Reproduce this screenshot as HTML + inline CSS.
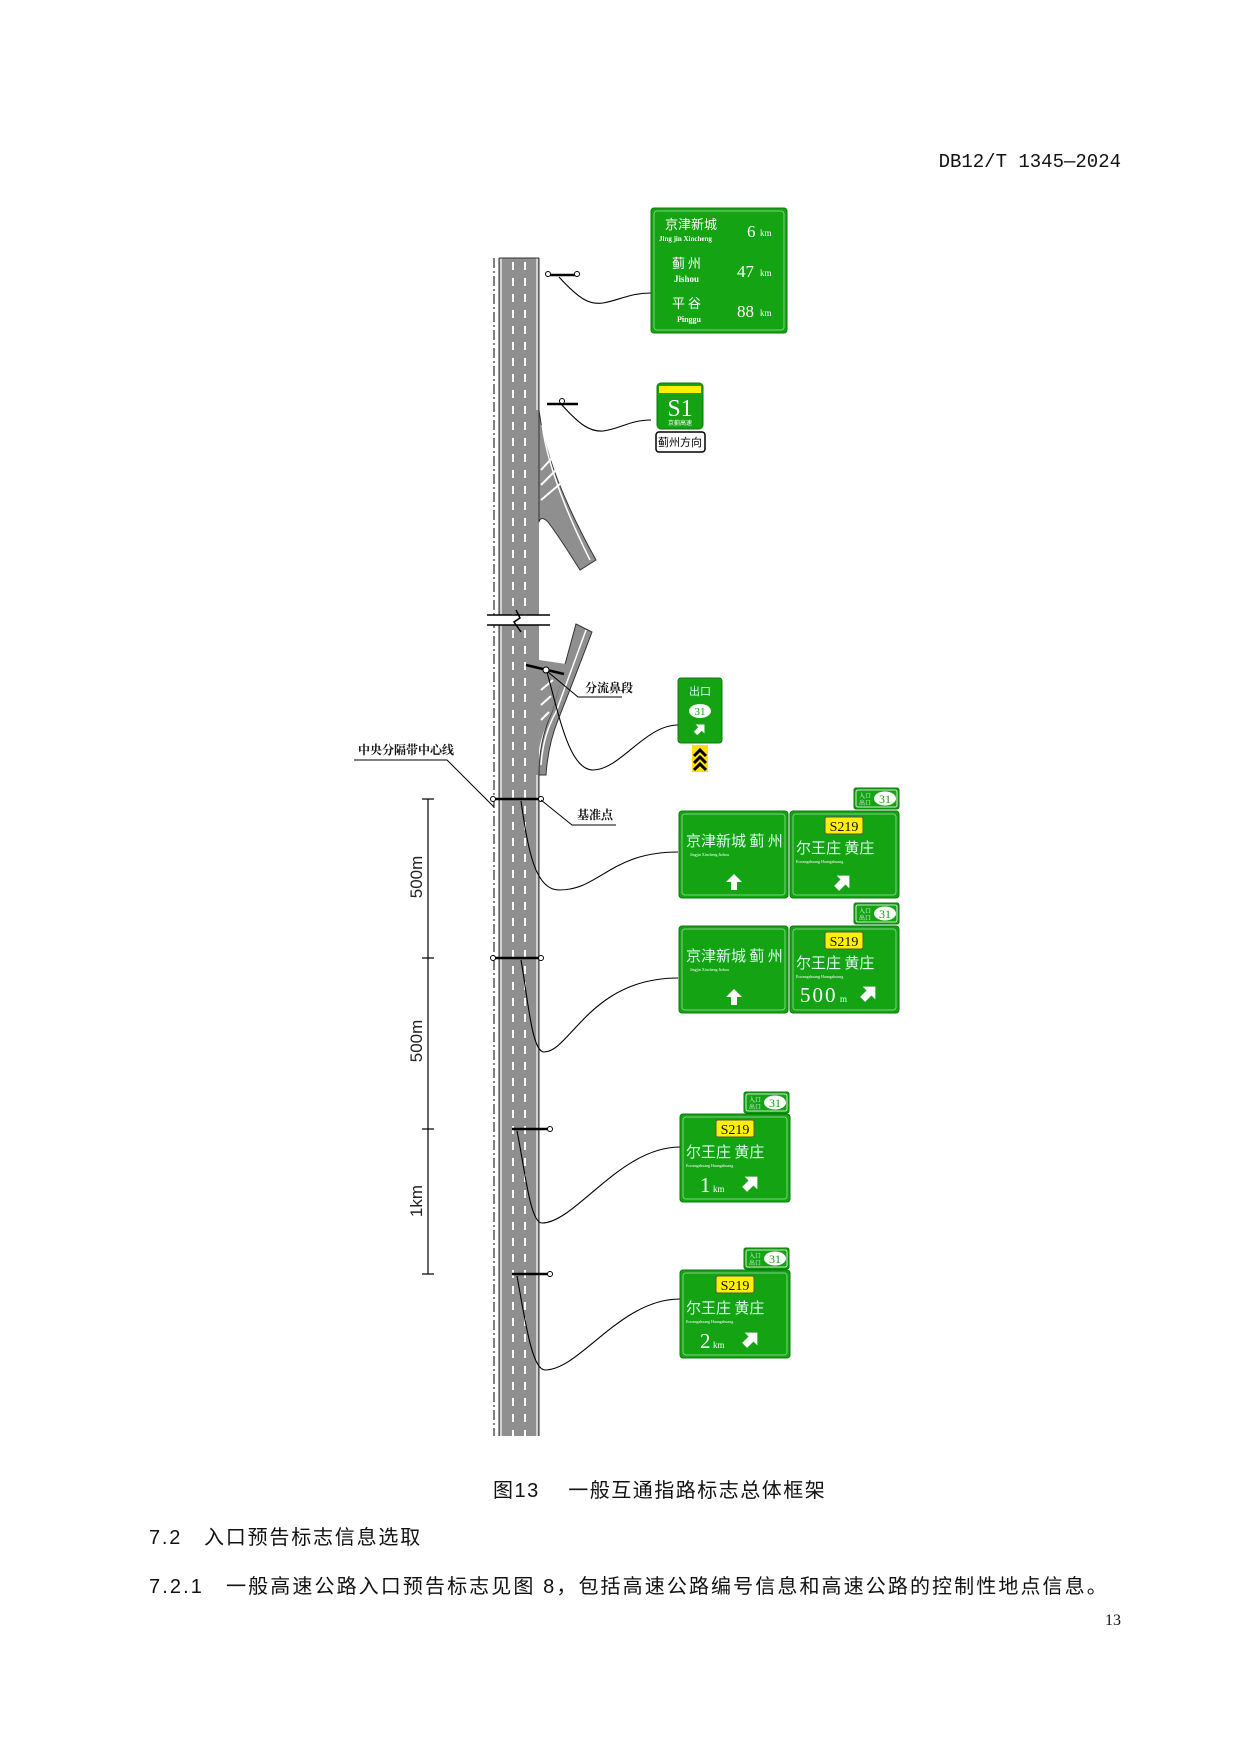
<!DOCTYPE html>
<html><head><meta charset="utf-8"><style>
html,body{margin:0;padding:0;background:#fff;}
body{width:1241px;height:1755px;position:relative;overflow:hidden;font-family:"Liberation Sans","Noto Sans CJK SC",sans-serif;}
.t{position:absolute;white-space:nowrap;color:#111;}
</style></head><body>
<div class="t" style="right:120px;top:151px;font-size:19px;font-family:'Liberation Mono','Noto Sans CJK SC',monospace;">DB12/T 1345—2024</div>

<svg width="1241" height="1755" style="position:absolute;left:0;top:0" font-family="Liberation Serif, Noto Serif CJK SC, serif">
<defs>
<g id="up"><polygon points="0,-8 8,0 3,0 3,8 -3,8 -3,0 -8,0" fill="#fff"/></g>
<g id="diag"><polygon points="0,-9 9,0 3.5,0 3.5,9 -3.5,9 -3.5,0 -9,0" fill="#fff" transform="rotate(45)"/></g>
<g id="tag"><rect x="0" y="0" width="45" height="21" rx="2" fill="#13a313" stroke="#0d7a0d"/><rect x="2" y="2" width="41" height="17" rx="2" fill="none" stroke="#fff" stroke-width="0.8"/><text x="5" y="10" font-size="6" fill="#fff">入口</text><text x="5" y="17" font-size="6" fill="#fff">出口</text><ellipse cx="31" cy="10.5" rx="11" ry="7" fill="#fff"/><text x="31" y="15" font-size="12" text-anchor="middle" fill="#13a313">31</text></g>
</defs>

<!-- road -->
<rect x="499" y="258" width="40" height="1178" fill="#8f8f8f"/>
<line x1="501" y1="258" x2="501" y2="1436" stroke="#fff" stroke-width="1.2"/>
<line x1="537" y1="258" x2="537" y2="410" stroke="#fff" stroke-width="1.2"/>
<line x1="537" y1="775" x2="537" y2="1436" stroke="#fff" stroke-width="1.2"/>
<line x1="499" y1="258" x2="499" y2="1436" stroke="#333" stroke-width="1"/>
<line x1="539" y1="258" x2="539" y2="410" stroke="#333" stroke-width="1"/>
<line x1="539" y1="775" x2="539" y2="1436" stroke="#333" stroke-width="1"/>
<line x1="499" y1="258" x2="539" y2="258" stroke="#333"/>
<line x1="513" y1="262" x2="513" y2="1436" stroke="#fff" stroke-width="2" stroke-dasharray="8,8"/>
<line x1="525" y1="262" x2="525" y2="1436" stroke="#fff" stroke-width="2" stroke-dasharray="8,8"/>
<line x1="494" y1="258" x2="494" y2="1436" stroke="#000" stroke-width="1" stroke-dasharray="10,3,2,3"/>

<!-- upper ramp -->
<path d="M539,410 Q546,470 596,560 L580,570 Q558,535 548,522 Q541,515 539,522 Z" fill="#8f8f8f" stroke="#333"/>
<path d="M542,425 Q550,480 590,560" fill="none" stroke="#fff" stroke-width="1.5"/>
<path d="M541,470 L552,458 M541,485 L556,470 M541,500 L560,484" stroke="#fff" stroke-width="2" fill="none"/>
<!-- lower ramp -->
<path d="M539,775 Q539,740 552,712 L576,624 L592,632 Q570,690 558,720 Q548,745 546,775 Z" fill="#8f8f8f" stroke="#333"/>
<path d="M539,660 L566,664 L552,712 Q541,735 539,750 Z" fill="#8f8f8f"/>
<path d="M541,765 Q543,735 556,712 L586,630" fill="none" stroke="#fff" stroke-width="1.5"/>
<path d="M541,690 L553,680 M541,705 L551,696 M541,720 L549,712" stroke="#fff" stroke-width="2" fill="none"/>

<!-- break -->
<rect x="486" y="615" width="65" height="10" fill="#fff"/>
<line x1="487" y1="615" x2="550" y2="615" stroke="#000" stroke-width="1.5"/>
<line x1="487" y1="625" x2="550" y2="625" stroke="#000" stroke-width="1.5"/>
<path d="M516,610 L520,618 L514,622 L521,632" stroke="#000" stroke-width="1.5" fill="none"/>

<!-- gantries -->
<g stroke="#000" stroke-width="2.5">
<line x1="547" y1="275" x2="578" y2="275"/><line x1="547" y1="404" x2="578" y2="404"/>
<line x1="493" y1="799" x2="541" y2="799"/><line x1="493" y1="958" x2="541" y2="958"/>
<line x1="512" y1="1129" x2="550" y2="1129"/><line x1="512" y1="1274" x2="550" y2="1274"/>
<line x1="526" y1="665" x2="564" y2="674"/>
</g>
<g fill="#fff" stroke="#000" stroke-width="1">
<circle cx="548" cy="274" r="2.5"/><circle cx="577" cy="274" r="2.5"/><circle cx="562" cy="401" r="2.5"/>
<circle cx="493" cy="799" r="2.5"/><circle cx="541" cy="799" r="2.5"/><circle cx="493" cy="958" r="2.5"/><circle cx="541" cy="958" r="2.5"/>
<circle cx="550" cy="1129" r="2.5"/><circle cx="550" cy="1274" r="2.5"/><circle cx="546" cy="670" r="3"/>
</g>

<!-- leader curves -->
<g fill="none" stroke="#000" stroke-width="1.1">
<path d="M559,277 C580,300 590,305 603,303 C620,300 630,293 651,293"/>
<path d="M561,404 C580,425 590,432 603,431 C620,429 630,420 651,420"/>
<path d="M547,672 C560,720 570,770 593,770 C620,770 645,725 678,725"/>
<path d="M521,801 C528,850 535,890 559,890 C600,890 610,852 678,852"/>
<path d="M521,960 C528,1000 532,1052 544,1052 C570,1052 590,978 678,978"/>
<path d="M517,1131 C525,1170 530,1223 542,1223 C575,1223 620,1147 680,1147"/>
<path d="M517,1276 C525,1320 532,1370 545,1370 C580,1370 620,1299 680,1299"/>
</g>

<!-- dimension -->
<g stroke="#000" stroke-width="1.2">
<line x1="428" y1="799" x2="428" y2="1274"/>
<line x1="422" y1="799" x2="434" y2="799"/><line x1="422" y1="958" x2="434" y2="958"/>
<line x1="422" y1="1129" x2="434" y2="1129"/><line x1="422" y1="1274" x2="434" y2="1274"/>
</g>
<g font-family="Liberation Sans, sans-serif" font-size="17" fill="#222">
<text transform="translate(422,877) rotate(-90)" text-anchor="middle">500m</text>
<text transform="translate(422,1041) rotate(-90)" text-anchor="middle">500m</text>
<text transform="translate(422,1201) rotate(-90)" text-anchor="middle">1km</text>
</g>

<!-- callouts -->
<g stroke="#000" stroke-width="1" fill="none">
<polyline points="354,760 447,760 494,807"/>
<polyline points="541,800 572,825 616,825"/>
<polyline points="548,672 578,697 622,697"/>
</g>
<g font-family="Noto Serif CJK SC, serif" font-size="12" font-weight="bold" fill="#111">
<text x="358" y="754">中央分隔带中心线</text>
<text x="577" y="819">基准点</text>
<text x="585" y="692">分流鼻段</text>
</g>

<!-- big sign -->
<rect x="651" y="208" width="136" height="125" rx="3" fill="#13a313" stroke="#0d7a0d"/>
<rect x="654" y="211" width="130" height="119" rx="3" fill="none" stroke="#7fd07f" stroke-width="1"/>
<g fill="#fff">
<text x="665" y="229" font-size="13" font-family="Noto Sans CJK SC, sans-serif">京津新城</text>
<text x="659" y="241" font-size="7" font-weight="bold">Jing jin Xincheng</text>
<text x="747" y="237" font-size="17">6</text><text x="760" y="236" font-size="9">km</text>
<text x="672" y="268" font-size="13" font-family="Noto Sans CJK SC, sans-serif">蓟  州</text>
<text x="674" y="282" font-size="9" font-weight="bold">Jishou</text>
<text x="737" y="277" font-size="17">47</text><text x="760" y="276" font-size="9">km</text>
<text x="672" y="308" font-size="13" font-family="Noto Sans CJK SC, sans-serif">平  谷</text>
<text x="677" y="322" font-size="8" font-weight="bold">Pinggu</text>
<text x="737" y="317" font-size="17">88</text><text x="760" y="316" font-size="9">km</text>
</g>

<!-- S1 sign -->
<rect x="657" y="383" width="46" height="46" rx="4" fill="#13a313" stroke="#0d7a0d"/>
<rect x="659" y="386" width="42" height="7" fill="#ffef00"/>
<text x="680" y="416" font-size="24" fill="#fff" text-anchor="middle">S1</text>
<text x="680" y="425" font-size="6" fill="#fff" text-anchor="middle" font-family="Noto Sans CJK SC, sans-serif">京蓟高速</text>
<rect x="656" y="432" width="49" height="20" rx="3" fill="#fff" stroke="#000" stroke-width="1.5"/>
<text x="680" y="446" font-size="11" text-anchor="middle" font-family="Noto Sans CJK SC, sans-serif">蓟州方向</text>

<!-- exit sign -->
<rect x="678" y="678" width="44" height="65" rx="3" fill="#13a313" stroke="#0d7a0d"/>
<text x="700" y="695" font-size="11" fill="#cfe" text-anchor="middle" font-family="Noto Sans CJK SC, sans-serif">出口</text>
<ellipse cx="700" cy="711" rx="11" ry="7" fill="#fff"/><text x="700" y="715" font-size="11" fill="#13a313" text-anchor="middle">31</text>
<use href="#diag" transform="translate(700,729) scale(0.7)"/>
<rect x="692" y="745" width="16" height="27" fill="#ffe000"/>
<path d="M694,756 L700,750 L706,756 M694,763 L700,757 L706,763 M694,770 L700,764 L706,770" stroke="#000" stroke-width="3" fill="none"/>

<!-- pair signs -->
<g>
<rect x="679" y="811" width="109" height="87" rx="3" fill="#13a313" stroke="#0d7a0d"/>
<rect x="682" y="814" width="103" height="81" rx="3" fill="none" stroke="#7fd07f"/>
<text x="686" y="846" font-size="15" fill="#dfe" font-family="Noto Sans CJK SC, sans-serif">京津新城 蓟 州</text>
<text x="690" y="856" font-size="4" fill="#fff">Jingjin Xincheng          Jizhou</text>
<use href="#up" transform="translate(734,882)"/>
<rect x="790" y="811" width="109" height="87" rx="3" fill="#13a313" stroke="#0d7a0d"/>
<rect x="793" y="814" width="103" height="81" rx="3" fill="none" stroke="#7fd07f"/>
<rect x="825" y="817" width="38" height="17" rx="2" fill="#ffef00" stroke="#555"/>
<text x="844" y="831" font-size="14" text-anchor="middle" fill="#111">S219</text>
<text x="796" y="853" font-size="15" fill="#dfe" font-family="Noto Sans CJK SC, sans-serif">尔王庄  黄庄</text>
<text x="796" y="863" font-size="4" fill="#fff">Erwangzhuang        Huangzhuang</text>
<use href="#diag" transform="translate(843,882)"/>
<use href="#tag" x="854" y="788"/>
</g>
<g>
<rect x="679" y="926" width="109" height="87" rx="3" fill="#13a313" stroke="#0d7a0d"/>
<rect x="682" y="929" width="103" height="81" rx="3" fill="none" stroke="#7fd07f"/>
<text x="686" y="961" font-size="15" fill="#dfe" font-family="Noto Sans CJK SC, sans-serif">京津新城 蓟 州</text>
<text x="690" y="971" font-size="4" fill="#fff">Jingjin Xincheng          Jizhou</text>
<use href="#up" transform="translate(734,997)"/>
<rect x="790" y="926" width="109" height="87" rx="3" fill="#13a313" stroke="#0d7a0d"/>
<rect x="793" y="929" width="103" height="81" rx="3" fill="none" stroke="#7fd07f"/>
<rect x="825" y="932" width="38" height="17" rx="2" fill="#ffef00" stroke="#555"/>
<text x="844" y="946" font-size="14" text-anchor="middle" fill="#111">S219</text>
<text x="796" y="968" font-size="15" fill="#dfe" font-family="Noto Sans CJK SC, sans-serif">尔王庄  黄庄</text>
<text x="796" y="978" font-size="4" fill="#fff">Erwangzhuang        Huangzhuang</text>
<text x="800" y="1002" font-size="21" fill="#fff" letter-spacing="2">500</text><text x="840" y="1002" font-size="9" fill="#fff">m</text>
<use href="#diag" transform="translate(869,993)"/>
<use href="#tag" x="854" y="903"/>
</g>

<!-- 1km -->
<g>
<rect x="680" y="1114" width="110" height="88" rx="3" fill="#13a313" stroke="#0d7a0d"/>
<rect x="683" y="1117" width="104" height="82" rx="3" fill="none" stroke="#7fd07f"/>
<rect x="716" y="1120" width="38" height="17" rx="2" fill="#ffef00" stroke="#555"/>
<text x="735" y="1134" font-size="14" text-anchor="middle" fill="#111">S219</text>
<text x="686" y="1157" font-size="15" fill="#dfe" font-family="Noto Sans CJK SC, sans-serif">尔王庄  黄庄</text>
<text x="686" y="1167" font-size="4" fill="#fff">Erwangzhuang        Huangzhuang</text>
<text x="700" y="1192" font-size="21" fill="#fff">1</text><text x="713" y="1192" font-size="9" fill="#fff">km</text>
<use href="#diag" transform="translate(751,1183)"/>
<use href="#tag" x="744" y="1092"/>
</g>
<g>
<rect x="680" y="1270" width="110" height="88" rx="3" fill="#13a313" stroke="#0d7a0d"/>
<rect x="683" y="1273" width="104" height="82" rx="3" fill="none" stroke="#7fd07f"/>
<rect x="716" y="1276" width="38" height="17" rx="2" fill="#ffef00" stroke="#555"/>
<text x="735" y="1290" font-size="14" text-anchor="middle" fill="#111">S219</text>
<text x="686" y="1313" font-size="15" fill="#dfe" font-family="Noto Sans CJK SC, sans-serif">尔王庄  黄庄</text>
<text x="686" y="1323" font-size="4" fill="#fff">Erwangzhuang        Huangzhuang</text>
<text x="700" y="1348" font-size="21" fill="#fff">2</text><text x="713" y="1348" font-size="9" fill="#fff">km</text>
<use href="#diag" transform="translate(751,1339)"/>
<use href="#tag" x="744" y="1248"/>
</g>
</svg>

<div class="t" style="left:493px;top:1474px;font-size:20px;letter-spacing:1.5px;">图13　 一般互通指路标志总体框架</div>
<div class="t" style="left:149px;top:1521px;font-size:20px;letter-spacing:1.8px;">7.2　入口预告标志信息选取</div>
<div class="t" style="left:149px;top:1570px;font-size:20px;letter-spacing:2.1px;">7.2.1　一般高速公路入口预告标志见图 8，包括高速公路编号信息和高速公路的控制性地点信息。</div>
<div class="t" style="right:120px;top:1612px;font-size:16px;font-family:'Liberation Serif',serif;">13</div>
</body></html>
